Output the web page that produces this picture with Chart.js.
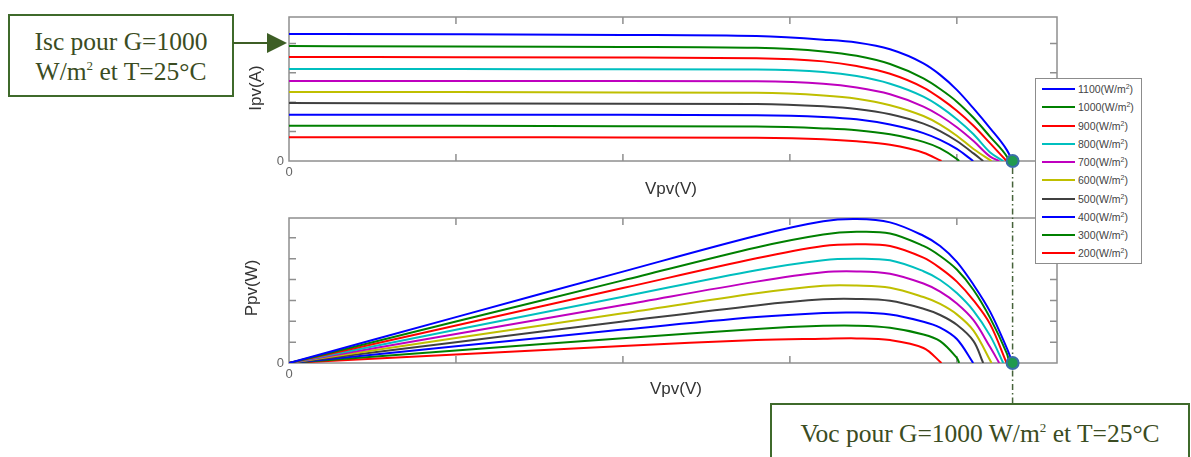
<!DOCTYPE html>
<html>
<head>
<meta charset="utf-8">
<script src="https://cdn.jsdelivr.net/npm/chart.js@4.4.0/dist/chart.umd.min.js"></script>
<style>
  html, body { margin: 0; padding: 0; background: #fff; }
  #stage { position: relative; width: 1191px; height: 457px; overflow: hidden; font-family: "Liberation Sans", Arial, sans-serif; }
  #stage canvas { position: absolute; left: 0; top: 0; }
  .note { position: absolute; box-sizing: border-box; border: 2px solid #3f6a2b; background: #fff; color: #3b4c22;
          font-family: "Liberation Serif", "Times New Roman", serif; font-size: 25.5px; text-align: center; }
  .note sup { font-size: 13px; vertical-align: 10px; line-height: 0; }
  .axis-title { position: absolute; font-size: 17px; color: #333; white-space: nowrap; transform: translate(-50%, -50%); }
  .axis-title.rot { transform: translate(-50%, -50%) rotate(-90deg); }
  #legend { position: absolute; left: 1035px; top: 78px; width: 107px; height: 186px; box-sizing: border-box;
            border: 1px solid #8c8c8c; background: #fff; padding-top: 1px; }
  #legend .row { height: 18.25px; display: flex; align-items: center; font-size: 10.5px; color: #444; }
  #legend .swatch { width: 33px; height: 2px; margin-left: 6px; margin-right: 3px; }
  #legend sup { font-size: 7px; vertical-align: 4px; line-height: 0; }
  #arrow { position: absolute; left: 0; top: 0; }
</style>
</head>
<body>
<div id="stage">
  <canvas id="pvChart" width="1191" height="457"></canvas>
  <canvas id="ivChart" width="1191" height="457"></canvas>

  <div class="axis-title rot" style="left:256px; top:88px;">Ipv(A)</div>
  <div class="axis-title" style="left:671px; top:189px;">Vpv(V)</div>
  <div class="axis-title rot" style="left:252px; top:288px;">Ppv(W)</div>
  <div class="axis-title" style="left:676px; top:389px;">Vpv(V)</div>

  <div id="legend"></div>

  <div class="note" style="left:8px; top:14px; width:226px; height:83px; line-height:30px; padding-top:11px;">
    Isc pour G=1000<br>W/m<sup>2</sup> et T=25°C
  </div>
  <svg id="arrow" width="300" height="100">
    <line x1="233" y1="43" x2="270" y2="43" stroke="#3d5e25" stroke-width="2"/>
    <polygon points="267,33 287,43 267,53" fill="#3d5e25"/>
  </svg>

  <div class="note" id="vocNote" style="left:770px; top:403px; width:420px; height:70px; line-height:58px;">
    Voc pour G=1000 W/m<sup>2</sup> et T=25°C
  </div>
</div>

<script>
// irradiance levels, one curve each (W/m2)
const irradiance = [1100, 1000, 900, 800, 700, 600, 500, 400, 300, 200];

// voltage samples shared by all curves (V)
const vGrid = [0, 5, 10, 14, 16, 17, 18, 19, 19.5, 20, 20.5, 21, 21.5];

// open circuit voltage of each curve (V)
const vocByCurve = [21.67, 21.57, 21.49, 21.39, 21.27, 21.04, 20.79, 20.49, 20.07, 19.54];
const vocMarker = 21.67;

// current Ipv (A) at vGrid, null past Voc
const ipv1100 = [4.32, 4.31, 4.29, 4.25, 4.13, 4.03, 3.80, 3.32, 2.93, 2.42, 1.79, 1.11, 0.37];
const ipv1000 = [3.91, 3.90, 3.88, 3.85, 3.73, 3.58, 3.30, 2.81, 2.45, 2.02, 1.47, 0.82, 0.15];
const ipv900  = [3.54, 3.53, 3.52, 3.50, 3.39, 3.23, 2.97, 2.50, 2.14, 1.71, 1.20, 0.60, null];
const ipv800  = [3.13, 3.13, 3.12, 3.11, 3.03, 2.89, 2.63, 2.19, 1.85, 1.42, 0.91, 0.29, null];
const ipv700  = [2.72, 2.72, 2.72, 2.71, 2.63, 2.50, 2.27, 1.85, 1.54, 1.15, 0.68, 0.15, null];
const ipv600  = [2.35, 2.35, 2.33, 2.32, 2.23, 2.12, 1.90, 1.53, 1.24, 0.86, 0.41, null, null];
const ipv500  = [1.97, 1.96, 1.95, 1.94, 1.86, 1.77, 1.59, 1.27, 1.02, 0.68, 0.26, null, null];
const ipv400  = [1.57, 1.57, 1.57, 1.56, 1.50, 1.42, 1.24, 0.95, 0.72, 0.41, null, null, null];
const ipv300  = [1.20, 1.20, 1.18, 1.17, 1.11, 1.05, 0.91, 0.65, 0.43, 0.07, null, null, null];
const ipv200  = [0.81, 0.81, 0.80, 0.79, 0.74, 0.67, 0.55, 0.28, null, null, null, null, null];

// power Ppv (W) at vGrid, null past Voc
const ppv1100 = [0, 22.0, 43.8, 61.0, 67.9, 69.0, 67.4, 61.0, 56.1, 48.5, 37.5, 24.5, 7.0];
const ppv1000 = [0, 19.9, 39.6, 55.4, 61.6, 62.9, 62.1, 56.1, 51.3, 44.8, 35.0, 21.5, 4.5];
const ppv900  = [0, 18.0, 35.9, 50.2, 56.1, 56.9, 56.1, 50.5, 45.5, 39.0, 30.0, 18.5, null];
const ppv800  = [0, 15.9, 31.8, 44.5, 49.3, 50.0, 49.2, 44.0, 39.8, 33.5, 25.0, 13.0, null];
const ppv700  = [0, 13.9, 27.8, 39.0, 43.5, 43.9, 42.8, 38.1, 34.2, 28.5, 20.5, 7.5, null];
const ppv600  = [0, 12.0, 23.8, 33.4, 37.0, 37.1, 36.1, 31.6, 28.3, 23.3, 15.5, null, null];
const ppv500  = [0, 10.0, 19.9, 27.6, 30.5, 30.7, 29.8, 26.0, 23.0, 18.3, 10.5, null, null];
const ppv400  = [0, 8.0, 16.0, 22.0, 24.0, 24.2, 23.2, 19.8, 17.0, 11.5, null, null, null];
const ppv300  = [0, 6.0, 11.9, 16.3, 17.8, 17.9, 16.9, 13.7, 10.5, 2.5, null, null, null];
const ppv200  = [0, 4.1, 8.1, 11.0, 11.6, 11.8, 11.0, 7.2, null, null, null, null, null];

const ipvCurves = [ipv1100, ipv1000, ipv900, ipv800, ipv700, ipv600, ipv500, ipv400, ipv300, ipv200];
const ppvCurves = [ppv1100, ppv1000, ppv900, ppv800, ppv700, ppv600, ppv500, ppv400, ppv300, ppv200];

// MATLAB style line colours
const lineColors = ['#0000ff', '#008000', '#ff0000', '#00bfbf', '#bf00bf', '#bfbf00', '#404040', '#0000ff', '#008000', '#ff0000'];

function toPoints(vals, voc) {
  const pts = [];
  vGrid.forEach((v, i) => {
    if (vals[i] !== null && v < voc) pts.push({ x: v, y: vals[i] });
  });
  pts.push({ x: voc, y: 0 });
  return pts;
}

function buildDatasets(curves, smooth) {
  const sets = curves.map((vals, i) => Object.assign({
    label: irradiance[i] + '(W/m2)',
    data: toPoints(vals, vocByCurve[i]),
    borderColor: lineColors[i],
    borderWidth: 2,
    pointRadius: 0,
    fill: false
  }, smooth));
  sets.push({
    label: 'Voc',
    data: [{ x: vocMarker, y: 0 }],
    showLine: false,
    pointRadius: 6,
    pointBackgroundColor: '#1f9a4e',
    pointBorderColor: '#3a6ea8',
    pointBorderWidth: 2,
    clip: false,
    order: -1
  });
  return sets;
}

// frame, inward tick marks on all four sides and the "0" labels
const frameTicks = {
  id: 'frameTicks',
  beforeDatasetsDraw(chart) {
    const { ctx, chartArea: a, scales: { x, y } } = chart;
    ctx.save();
    ctx.strokeStyle = '#8f8f8f';
    ctx.lineWidth = 1.5;
    ctx.strokeRect(a.left, a.top, a.right - a.left, a.bottom - a.top);
    ctx.beginPath();
    x.ticks.forEach(t => {
      if (t.value <= x.min || t.value >= x.max) return;
      const px = x.getPixelForValue(t.value);
      ctx.moveTo(px, a.bottom); ctx.lineTo(px, a.bottom - 7);
      ctx.moveTo(px, a.top); ctx.lineTo(px, a.top + 7);
    });
    y.ticks.forEach(t => {
      if (t.value <= y.min || t.value >= y.max) return;
      const py = y.getPixelForValue(t.value);
      ctx.moveTo(a.left, py); ctx.lineTo(a.left + 7, py);
      ctx.moveTo(a.right, py); ctx.lineTo(a.right - 7, py);
    });
    ctx.stroke();

    ctx.fillStyle = '#666';
    ctx.font = '13px "Liberation Sans", Arial, sans-serif';
    ctx.textAlign = 'right';
    ctx.textBaseline = 'middle';
    ctx.fillText('0', a.left - 5, y.getPixelForValue(0));
    ctx.textAlign = 'center';
    ctx.textBaseline = 'top';
    ctx.fillText('0', x.getPixelForValue(0), a.bottom + 5);
    ctx.restore();
  }
};

function makeChart(canvasId, curves, smooth, yMax, yStep, area, extraPlugins) {
  return new Chart(document.getElementById(canvasId), {
    type: 'line',
    data: { datasets: buildDatasets(curves, smooth) },
    options: {
      responsive: false,
      animation: false,
      devicePixelRatio: 1,
      layout: { padding: { left: area.left, right: 1191 - area.right, top: area.top, bottom: 457 - area.bottom } },
      plugins: { legend: { display: false }, tooltip: { enabled: false } },
      scales: {
        x: {
          type: 'linear', min: 0, max: 23,
          ticks: { stepSize: 5, display: false },
          grid: { display: false },
          border: { display: false },
          afterFit: s => { s.height = 0; }
        },
        y: {
          type: 'linear', min: 0, max: yMax,
          ticks: { stepSize: yStep, display: false },
          grid: { display: false },
          border: { display: false },
          afterFit: s => { s.width = 0; }
        }
      }
    },
    plugins: [frameTicks].concat(extraPlugins || [])
  });
}

const ivChart = makeChart('ivChart', ipvCurves, { cubicInterpolationMode: 'monotone' },
  4.9, 1, { left: 289, right: 1057, top: 17, bottom: 161 });

// dash-dot guide from the Voc point of the I-V plot down to the Voc note
const vocGuide = {
  id: 'vocGuide',
  beforeDatasetsDraw(chart) {
    const { ctx, scales: { x } } = chart;
    const px = x.getPixelForValue(vocMarker);
    const yTop = ivChart.chartArea.bottom + 7;
    const yEnd = document.getElementById('vocNote').offsetTop;
    ctx.save();
    ctx.strokeStyle = '#46623a';
    ctx.lineWidth = 1.5;
    ctx.setLineDash([6, 3, 1.5, 3]);
    ctx.beginPath();
    ctx.moveTo(px, yTop);
    ctx.lineTo(px, yEnd);
    ctx.stroke();
    ctx.restore();
  }
};

const pvChart = makeChart('pvChart', ppvCurves, { tension: 0.35 },
  69.5, 10, { left: 289, right: 1057, top: 218, bottom: 363 }, [vocGuide]);

// legend built from the curve list
const legend = document.getElementById('legend');
irradiance.forEach((g, i) => {
  const row = document.createElement('div');
  row.className = 'row';
  const sw = document.createElement('span');
  sw.className = 'swatch';
  sw.style.background = lineColors[i];
  const txt = document.createElement('span');
  txt.innerHTML = g + '(W/m<sup>2</sup>)';
  row.appendChild(sw);
  row.appendChild(txt);
  legend.appendChild(row);
});
</script>
</body>
</html>
